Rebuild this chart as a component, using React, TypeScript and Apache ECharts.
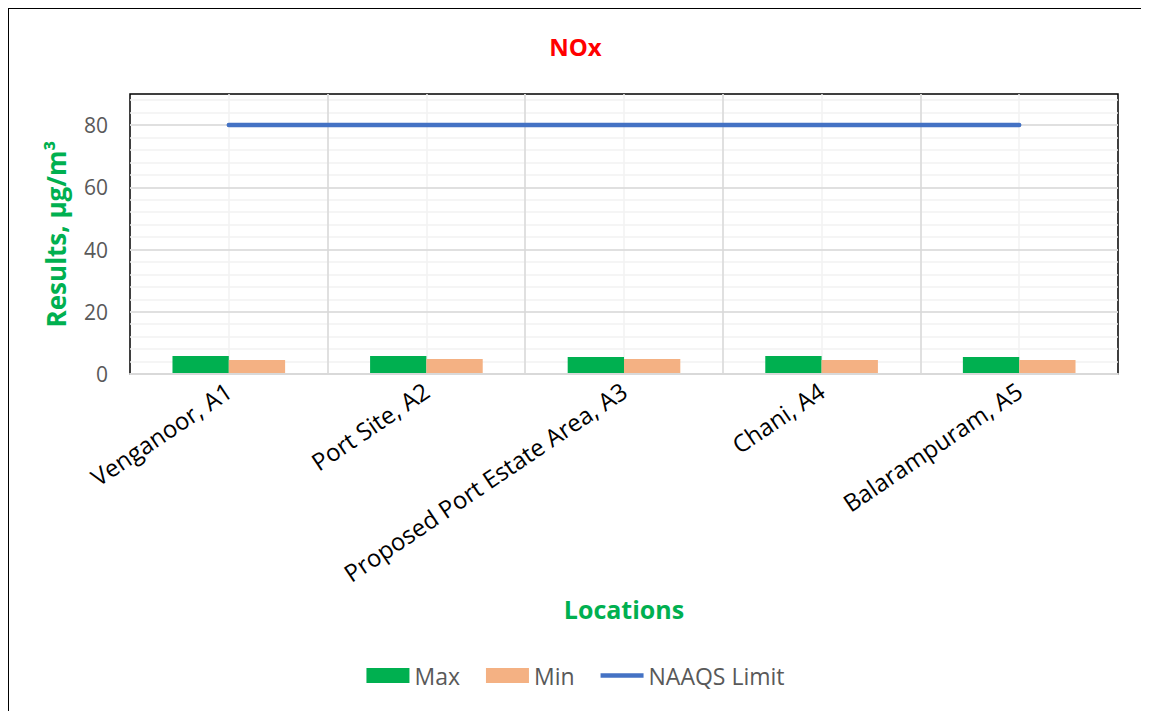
import React, { useEffect, useRef } from "react";
import * as echarts from "echarts";

const categories = [
  "Venganoor, A1",
  "Port Site, A2",
  "Proposed Port Estate Area, A3",
  "Chani, A4",
  "Balarampuram, A5",
];
const maxValues = [5.8, 5.8, 5.5, 5.8, 5.5];
const minValues = [4.5, 4.8, 4.8, 4.5, 4.5];
const naaqsLimit = [80, 80, 80, 80, 80];

const FONT = "'Open Sans', Lato, sans-serif";

export default function App() {
  const ref = useRef<HTMLDivElement>(null);
  useEffect(() => {
    if (!ref.current) return;
    const chart = echarts.init(ref.current, null, { renderer: "svg" });
    chart.setOption({
      animation: false,
      textStyle: { fontFamily: FONT },
      title: {
        text: "NOx",
        left: "center",
        top: 20,
        textStyle: { color: "#FF0000", fontSize: 24, fontWeight: "bold", fontFamily: FONT },
      },
      graphic: [
        {
          type: "text",
          x: 615,
          y: 600,
          style: {
            text: "Locations",
            fill: "#00B050",
            font: `bold 25px ${FONT}`,
            textAlign: "center",
            textVerticalAlign: "middle",
          },
        },
      ],
      grid: {
        left: 121,
        right: 24,
        top: 85,
        bottom: 338,
        show: true,
        borderColor: "#000",
        borderWidth: 1.5,
      },
      legend: {
        bottom: 20,
        left: "center",
        itemWidth: 43,
        itemHeight: 15,
        itemGap: 26,
        symbolKeepAspect: true,
        textStyle: { color: "#595959", fontSize: 23, fontFamily: FONT },
        data: [
          { name: "Max", icon: "rect" },
          { name: "Min", icon: "rect" },
          { name: "NAAQS Limit", icon: "path://M0 0H430V45H0Z" },
        ],
      },
      xAxis: [
        {
          type: "category",
          data: categories,
          boundaryGap: true,
          axisLine: { show: true, lineStyle: { color: "#D9D9D9", width: 2 } },
          axisTick: { show: false },
          splitLine: {
            show: true,
            interval: 0,
            showMinLine: false,
            showMaxLine: false,
            lineStyle: { color: "#D9D9D9", width: 1.5 },
          },
          axisLabel: {
            rotate: 34,
            interval: 0,
            color: "#000",
            fontSize: 24,
            margin: 14,
            fontFamily: FONT,
          },
          z: 5,
        },
        {
          type: "value",
          min: 0,
          max: 5,
          interval: 0.5,
          show: true,
          axisLine: { show: false },
          axisTick: { show: false },
          axisLabel: { show: false },
          splitLine: {
            show: true,
            showMinLine: false,
            showMaxLine: false,
            lineStyle: { color: "#F2F2F2", width: 1.5 },
          },
          z: 1,
        },
      ],
      yAxis: [
        {
          type: "value",
          min: 0,
          max: 90,
          interval: 4,
          axisLine: { show: false },
          axisTick: { show: false },
          axisLabel: { show: false },
          splitLine: {
            show: true,
            showMinLine: false,
            showMaxLine: false,
            lineStyle: { color: "#F2F2F2", width: 1.5 },
          },
          z: 1,
        },
        {
          type: "value",
          min: 0,
          max: 90,
          interval: 20,
          position: "left",
          name: "Results, µg/m³",
          nameLocation: "middle",
          nameRotate: 90,
          nameGap: 61,
          nameTextStyle: { color: "#00B050", fontSize: 26, fontWeight: "bold", fontFamily: FONT },
          axisLine: { show: false },
          axisTick: { show: false },
          axisLabel: {
            color: "#595959",
            fontSize: 21,
            margin: 22,
            showMaxLabel: false,
            fontFamily: FONT,
          },
          splitLine: {
            show: true,
            showMinLine: false,
            showMaxLine: false,
            lineStyle: { color: "#D9D9D9", width: 1.5 },
          },
          z: 2,
        },
      ],
      series: [
        {
          name: "Max",
          type: "bar",
          data: maxValues,
          xAxisIndex: 0,
          yAxisIndex: 1,
          barGap: "0%",
          barCategoryGap: "43%",
          itemStyle: { color: "#00B050" },
        },
        {
          name: "Min",
          type: "bar",
          data: minValues,
          xAxisIndex: 0,
          yAxisIndex: 1,
          itemStyle: { color: "#F4B183" },
        },
        {
          name: "NAAQS Limit",
          type: "line",
          data: naaqsLimit,
          xAxisIndex: 0,
          yAxisIndex: 1,
          symbol: "none",
          lineStyle: { color: "#4472C4", width: 4.5, cap: "round" },
          itemStyle: { color: "#4472C4" },
          z: 5,
        },
      ],
    });
    return () => chart.dispose();
  }, []);
  return (
    <div style={{ width: 1135, height: 705, border: "1px solid #000", boxSizing: "border-box" }}>
      <div ref={ref} style={{ width: 1133, height: 703 }} />
    </div>
  );
}
